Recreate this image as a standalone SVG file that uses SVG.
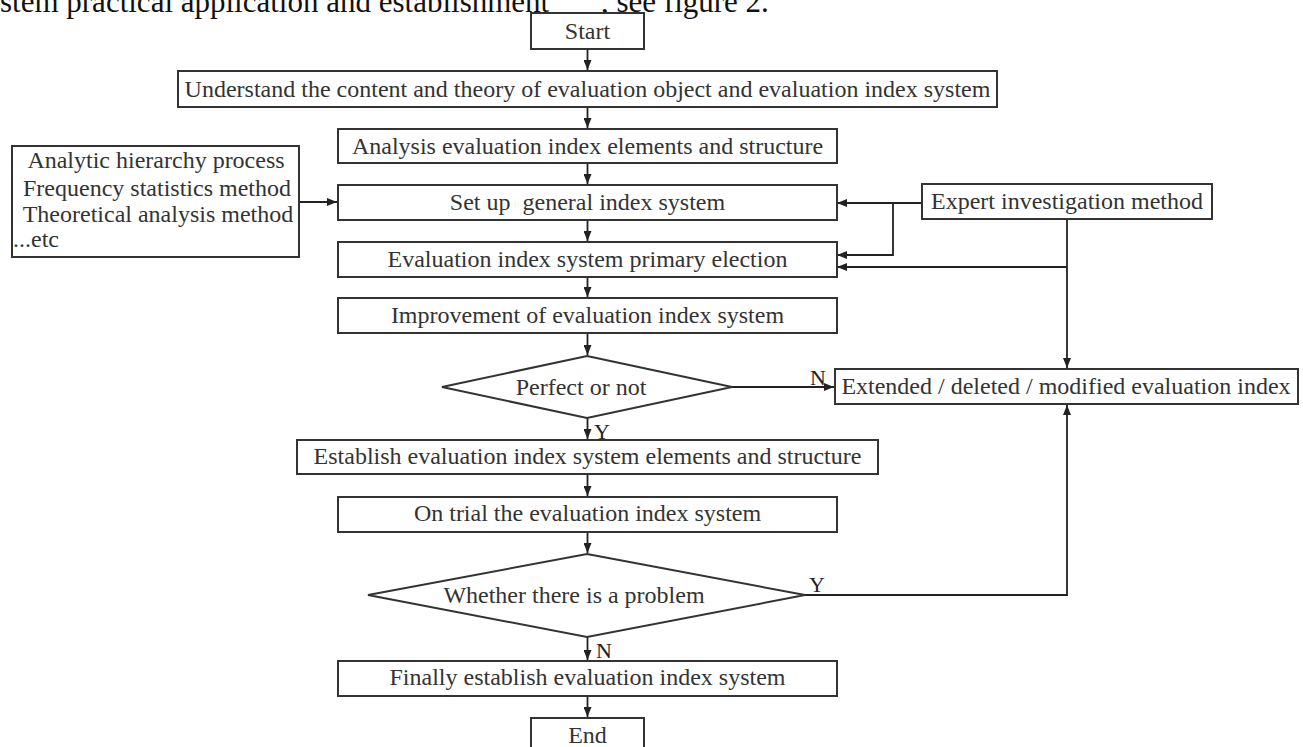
<svg xmlns="http://www.w3.org/2000/svg" width="1303" height="747" viewBox="0 0 1303 747">
  <style>
    .box { fill: #ffffff; stroke: #333333; stroke-width: 2; }
    .txt { font-family: "Liberation Serif", "Times New Roman", serif; font-size: 24px; fill: #333333; text-anchor: middle; }
    .lft { text-anchor: start; }
    .lbl { font-family: "Liberation Serif", "Times New Roman", serif; font-size: 22px; fill: #222222; }
    .body { font-family: "Liberation Serif", "Times New Roman", serif; font-size: 31px; fill: #111111; }
    .conn { fill: none; stroke: #222222; stroke-width: 1.8; }
  </style>
  <defs>
    <marker id="arr" markerUnits="userSpaceOnUse" markerWidth="10" markerHeight="8" refX="10" refY="4" orient="auto">
      <path d="M0,0 L10,4 L0,8 z" fill="#222222"/>
    </marker>
  </defs>
  <rect width="1303" height="747" fill="#ffffff"/>

  <g id="body-text">
    <text class="body" x="0" y="12">stem practical application and establishment</text>
    <text class="body" x="601" y="12">, see figure 2.</text>
  </g>

  <g id="connectors">
    <path class="conn" d="M587.5,49 V70" marker-end="url(#arr)"/>
    <path class="conn" d="M587.5,107 V128" marker-end="url(#arr)"/>
    <path class="conn" d="M587.5,163 V184" marker-end="url(#arr)"/>
    <path class="conn" d="M587.5,220 V241" marker-end="url(#arr)"/>
    <path class="conn" d="M587.5,277 V297" marker-end="url(#arr)"/>
    <path class="conn" d="M587.5,333 V355" marker-end="url(#arr)"/>
    <path class="conn" d="M587.5,418 V439" marker-end="url(#arr)"/>
    <path class="conn" d="M732,387 H834" marker-end="url(#arr)"/>
    <path class="conn" d="M587.5,474 V496" marker-end="url(#arr)"/>
    <path class="conn" d="M587.5,532 V553" marker-end="url(#arr)"/>
    <path class="conn" d="M587.5,637 V660" marker-end="url(#arr)"/>
    <path class="conn" d="M587.5,696 V717" marker-end="url(#arr)"/>
    <path class="conn" d="M805,595 H1067 V405" marker-end="url(#arr)"/>
    <path class="conn" d="M299,202 H337" marker-end="url(#arr)"/>
    <path class="conn" d="M922,203 H837" marker-end="url(#arr)"/>
    <path class="conn" d="M893,203 V255 H837" marker-end="url(#arr)"/>
    <path class="conn" d="M1067,219 V368" marker-end="url(#arr)"/>
    <path class="conn" d="M1067,267 H837" marker-end="url(#arr)"/>
    <text class="lbl" x="810" y="385">N</text>
    <text class="lbl" x="594" y="439">Y</text>
    <text class="lbl" x="809" y="592">Y</text>
    <text class="lbl" x="596" y="658">N</text>
  </g>

  <g id="start">
    <rect class="box" x="531" y="13" width="113" height="36"/>
    <text class="txt" x="587.5" y="39">Start</text>
  </g>
  <g id="understand">
    <rect class="box" x="178" y="71" width="819" height="36"/>
    <text class="txt" x="587.5" y="97">Understand the content and theory of evaluation object and evaluation index system</text>
  </g>
  <g id="analysis">
    <rect class="box" x="338" y="129" width="499" height="34"/>
    <text class="txt" x="587.5" y="154">Analysis evaluation index elements and structure</text>
  </g>
  <g id="methods">
    <rect class="box" x="12" y="146" width="287" height="111"/>
    <text class="txt" x="156" y="168">Analytic hierarchy process</text>
    <text class="txt" x="157" y="196">Frequency statistics method</text>
    <text class="txt" x="158" y="222">Theoretical analysis method</text>
    <text class="txt lft" x="13" y="247">...etc</text>
  </g>
  <g id="setup">
    <rect class="box" x="338" y="185" width="499" height="35"/>
    <text class="txt" x="587.5" y="210" xml:space="preserve">Set up  general index system</text>
  </g>
  <g id="expert">
    <rect class="box" x="922" y="184" width="290" height="35"/>
    <text class="txt" x="1067" y="209">Expert investigation method</text>
  </g>
  <g id="primary">
    <rect class="box" x="338" y="242" width="499" height="35"/>
    <text class="txt" x="587.5" y="267">Evaluation index system primary election</text>
  </g>
  <g id="improvement">
    <rect class="box" x="338" y="298" width="499" height="35"/>
    <text class="txt" x="587.5" y="323">Improvement of evaluation index system</text>
  </g>
  <g id="perfect">
    <polygon class="box" points="587,356 732,387 587,418 442,387"/>
    <text class="txt" x="581" y="395">Perfect or not</text>
  </g>
  <g id="extended">
    <rect class="box" x="835" y="369" width="463" height="35"/>
    <text class="txt" x="1066" y="394">Extended / deleted / modified evaluation index</text>
  </g>
  <g id="establish">
    <rect class="box" x="297" y="440" width="581" height="34"/>
    <text class="txt" x="587.5" y="464">Establish evaluation index system elements and structure</text>
  </g>
  <g id="trial">
    <rect class="box" x="338" y="497" width="499" height="35"/>
    <text class="txt" x="587.5" y="521">On trial the evaluation index system</text>
  </g>
  <g id="problem">
    <polygon class="box" points="587,554 805,595 587,637 368,595"/>
    <text class="txt" x="574" y="603">Whether there is a problem</text>
  </g>
  <g id="finally">
    <rect class="box" x="338" y="661" width="499" height="35"/>
    <text class="txt" x="587.5" y="685">Finally establish evaluation index system</text>
  </g>
  <g id="end">
    <rect class="box" x="531" y="718" width="113" height="45"/>
    <text class="txt" x="587.5" y="743">End</text>
  </g>
</svg>
